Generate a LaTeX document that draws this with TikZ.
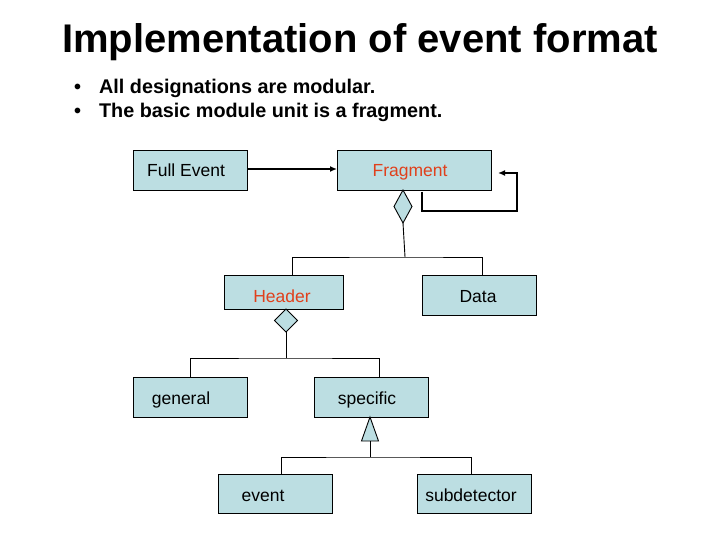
\documentclass[tikz,border=0pt]{standalone}
\usepackage{fontspec}
\setmainfont{Liberation Sans}
\usetikzlibrary{arrows.meta}
\definecolor{boxfill}{HTML}{BCDEE2}
\definecolor{redtxt}{HTML}{E0401C}
\tikzset{
  box/.style={draw=black, line width=0.9pt, fill=boxfill},
  lbl/.style={font=\fontsize{17.5}{20}\selectfont, inner sep=0pt, anchor=base},
  conn/.style={line width=0.9pt},
  arr/.style={line width=1.8pt, -{Latex[length=7pt,width=6pt]}},
  bullet/.style={font=\fontsize{19.8}{22}\selectfont\bfseries, anchor=base west, inner sep=0pt}
}
\begin{document}
\begin{tikzpicture}[x=1pt,y=-1pt]
\useasboundingbox (0,0) rectangle (720,540);
% title and bullets
\node[font=\fontsize{40}{44}\selectfont\bfseries, anchor=base] (title) at (360,53) {Implementation of event format};
\node[bullet] (b1) at (74,94) {•\hspace{18pt}All designations are modular.};
\node[bullet] (b2) at (74,118) {•\hspace{18pt}The basic module unit is a fragment.};
% boxes
\path[box] (133,150) rectangle (247,190);
\node[lbl] (feT) at (186,177) {Full Event};
\path[box] (337,150) rectangle (491,190);
\node[lbl, text=redtxt] (frT) at (410,177) {Fragment};
\path[box] (224,275) rectangle (343,309);
\node[lbl, text=redtxt] (hdT) at (282,302) {Header};
\path[box] (422,275) rectangle (536,315);
\node[lbl] (daT) at (478,302) {Data};
\path[box] (133,377) rectangle (247,417);
\node[lbl] (geT) at (181,404) {general};
\path[box] (314,377) rectangle (428,417);
\node[lbl] (spT) at (367,404) {specific};
\path[box] (218,474) rectangle (332,513);
\node[lbl] (evT) at (263,501) {event};
\path[box] (417,474) rectangle (531,513);
\node[lbl] (sdT) at (471,501) {subdetector};
% named points
\coordinate (feR) at (247,169);
\coordinate (frL) at (337,169);
\coordinate (loopS) at (422,192);
\coordinate (loopE) at (498,173);
\coordinate (d1) at (403,190);
\coordinate (d1b) at (403,223);
\coordinate (hj) at (405,257);
\coordinate (hdTop) at (292,275);
\coordinate (daTop) at (482,275);
\coordinate (d2) at (286,309);
\coordinate (d2b) at (286,332);
\coordinate (gj) at (286,358);
\coordinate (geTop) at (190,377);
\coordinate (spTop) at (379,377);
\coordinate (t1) at (370,417);
\coordinate (t1b) at (370,441);
\coordinate (ej) at (370,457);
\coordinate (evTop) at (281,474);
\coordinate (sdTop) at (471,474);
% connectors
\draw[arr] (feR) -- (frL);
\draw[arr] (loopS) |- (517,211) |- (loopE);
\draw[conn, fill=boxfill] (d1) -- (412,206.5) -- (d1b) -- (394,206.5) -- cycle;
\draw[conn] (d1b) -- (404,240) -- (hj);
\draw[conn] (hdTop) |- (hj) -| (daTop);
\draw[conn, fill=boxfill] (d2) -- (297.5,320.5) -- (d2b) -- (274.5,320.5) -- cycle;
\draw[conn] (d2b) -- (gj);
\draw[conn] (geTop) |- (gj) -| (spTop);
\draw[conn, fill=boxfill] (t1) -- (378.5,441) -- (361.5,441) -- cycle;
\draw[conn] (t1b) -- (ej);
\draw[conn] (evTop) |- (ej) -| (sdTop);
\end{tikzpicture}
\end{document}
